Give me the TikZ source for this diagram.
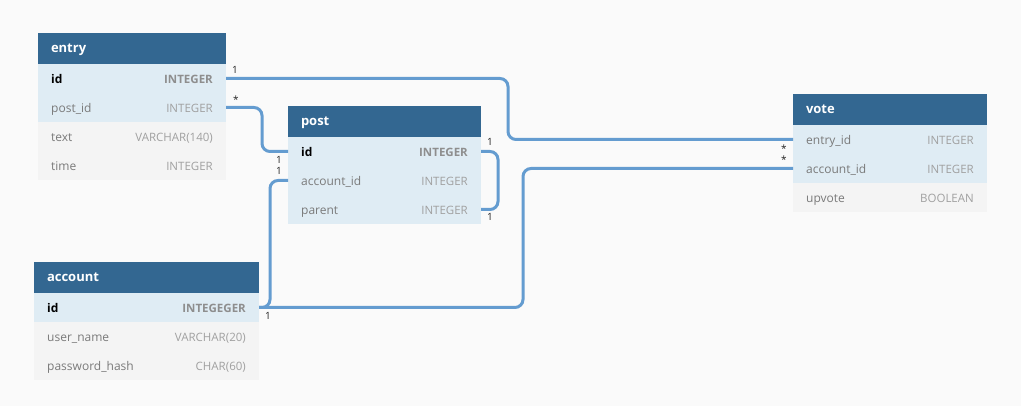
\documentclass[tikz,border=0pt]{standalone}
\usepackage{fontspec}
\setmainfont{Open Sans}
\usetikzlibrary{positioning}
\definecolor{dbhead}{HTML}{336791}
\definecolor{dbkey}{HTML}{DFECF4}
\definecolor{dbplain}{HTML}{F4F4F4}
\definecolor{dbline}{HTML}{649CD0}
\definecolor{dbback}{HTML}{FAFAFA}
\definecolor{dbname}{HTML}{7A7A7A}
\definecolor{dbtype}{HTML}{A0A0A0}
\definecolor{dbink}{HTML}{222222}

\tikzset{
  tblhead/.style={fill=dbhead, text=white, font=\fontsize{13}{15}\selectfont\bfseries,
    minimum height=31pt, inner xsep=13pt, anchor=north west, align=left,
    text depth=0pt, outer sep=0pt},
  tblrow/.style={minimum height=29pt, inner sep=0pt, outer sep=0pt},
  colname/.style={anchor=west, inner xsep=13pt, text=dbname, text height=9pt, text depth=0pt,
    yshift=-0.5pt, font=\fontsize{12}{14}\selectfont},
  coltype/.style={anchor=east, inner xsep=13pt, text=dbtype, text height=9pt, text depth=0pt,
    yshift=-0.5pt, font=\fontsize{11.5}{14}\selectfont},
  keyname/.style={colname, text=black, font=\fontsize{12}{14}\selectfont\bfseries},
  keytype/.style={coltype, text=dbname!85, font=\fontsize{11.5}{14}\selectfont\bfseries},
  rel/.style={draw=dbline, line width=3pt, rounded corners=8pt},
  card/.style={text=dbink, font=\fontsize{10}{12}\selectfont, inner sep=0pt}
}

\begin{document}
\begin{tikzpicture}[x=1pt, y=-1pt]
  \fill[dbback] (0,0) rectangle (1021,406);
  \useasboundingbox (0,0) rectangle (1021,406);

  % entry
  \node[tblhead, text width=162pt] (entry) at (38,33) {entry};
  \node[tblrow, fill=dbkey, minimum width=188pt, below=0pt of entry] (entry-id) {};
  \node[tblrow, fill=dbkey, minimum width=188pt, below=0pt of entry-id] (entry-postid) {};
  \node[tblrow, fill=dbplain, minimum width=188pt, below=0pt of entry-postid] (entry-text) {};
  \node[tblrow, fill=dbplain, minimum width=188pt, below=0pt of entry-text] (entry-time) {};
  \node[keyname] at (entry-id.west) {id};
  \node[keytype] at (entry-id.east) {INTEGER};
  \node[colname] at (entry-postid.west) {post\_id};
  \node[coltype] at (entry-postid.east) {INTEGER};
  \node[colname] at (entry-text.west) {text};
  \node[coltype] at (entry-text.east) {VARCHAR(140)};
  \node[colname] at (entry-time.west) {time};
  \node[coltype] at (entry-time.east) {INTEGER};

  % post
  \node[tblhead, text width=167pt] (post) at (288,106) {post};
  \node[tblrow, fill=dbkey, minimum width=193pt, below=0pt of post] (post-id) {};
  \node[tblrow, fill=dbkey, minimum width=193pt, below=0pt of post-id] (post-account) {};
  \node[tblrow, fill=dbkey, minimum width=193pt, below=0pt of post-account] (post-parent) {};
  \node[keyname] at (post-id.west) {id};
  \node[keytype] at (post-id.east) {INTEGER};
  \node[colname] at (post-account.west) {account\_id};
  \node[coltype] at (post-account.east) {INTEGER};
  \node[colname] at (post-parent.west) {parent};
  \node[coltype] at (post-parent.east) {INTEGER};

  % account
  \node[tblhead, text width=199pt] (account) at (34,262) {account};
  \node[tblrow, fill=dbkey, minimum width=225pt, below=0pt of account] (account-id) {};
  \node[tblrow, fill=dbplain, minimum width=225pt, below=0pt of account-id] (account-user) {};
  \node[tblrow, fill=dbplain, minimum width=225pt, below=0pt of account-user] (account-pass) {};
  \node[keyname] at (account-id.west) {id};
  \node[keytype] at (account-id.east) {INTEGEGER};
  \node[colname] at (account-user.west) {user\_name};
  \node[coltype] at (account-user.east) {VARCHAR(20)};
  \node[colname] at (account-pass.west) {password\_hash};
  \node[coltype] at (account-pass.east) {CHAR(60)};

  % vote
  \node[tblhead, text width=168pt] (vote) at (793,94) {vote};
  \node[tblrow, fill=dbkey, minimum width=194pt, below=0pt of vote] (vote-entry) {};
  \node[tblrow, fill=dbkey, minimum width=194pt, below=0pt of vote-entry] (vote-account) {};
  \node[tblrow, fill=dbplain, minimum width=194pt, below=0pt of vote-account] (vote-up) {};
  \node[colname] at (vote-entry.west) {entry\_id};
  \node[coltype] at (vote-entry.east) {INTEGER};
  \node[colname] at (vote-account.west) {account\_id};
  \node[coltype] at (vote-account.east) {INTEGER};
  \node[colname] at (vote-up.west) {upvote};
  \node[coltype] at (vote-up.east) {BOOLEAN};

  % relations
  \draw[rel] (entry-id.east) -- ([xshift=282pt]entry-id.east) |- (vote-entry.west);
  \draw[rel] (entry-postid.east) -- ([xshift=36pt]entry-postid.east) |- (post-id.west);
  \draw[rel] (post-id.east) -- ([xshift=17pt]post-id.east) |- (post-parent.east);
  \draw[rel] (account-id.east) -- ([xshift=11pt]account-id.east) |- (post-account.west);
  \draw[rel] (account-id.east) -- ([xshift=264pt]account-id.east) |- (vote-account.west);

  % cardinalities
  \node[card] (c-entry-id) at (235,70) {1};
  \node[card] (c-entry-post) at (236,100) {*};
  \node[card] (c-post-id) at (279,160) {1};
  \node[card] (c-post-acc) at (279,171) {1};
  \node[card] (c-post-self) at (490,142) {1};
  \node[card] (c-post-parent) at (490,217) {1};
  \node[card] (c-account) at (268,316) {1};
  \node[card] (c-vote-entry) at (784,149) {*};
  \node[card] (c-vote-acc) at (784,160) {*};
\end{tikzpicture}
\end{document}
